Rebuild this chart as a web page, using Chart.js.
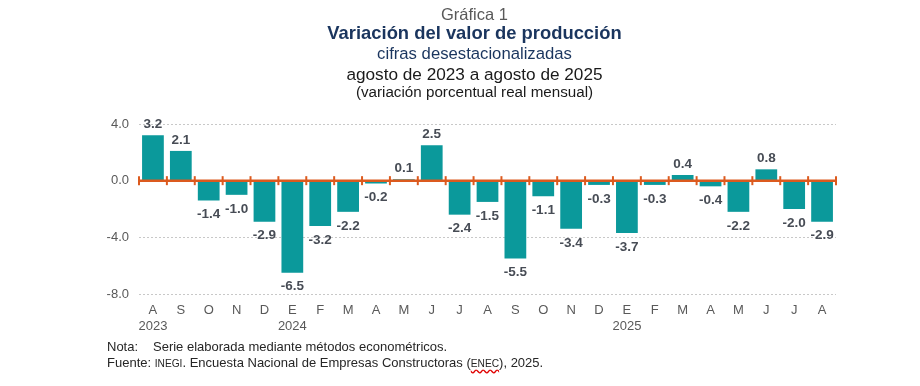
<!DOCTYPE html>
<html><head><meta charset="utf-8">
<script src="https://cdn.jsdelivr.net/npm/chart.js@4.4.1/dist/chart.umd.min.js"></script>
<style>
html,body{margin:0;padding:0;background:#fff;width:920px;height:386px;overflow:hidden;font-family:Arial,"Liberation Sans",sans-serif}
#wrap{position:absolute;left:0;top:0;width:920px;height:386px}
.t{position:absolute;left:0;width:949px;text-align:center;white-space:nowrap;line-height:1.15}
#t1{top:5px;font-size:16.5px;color:#595959}
#t2{top:22px;font-size:18.4px;font-weight:bold;color:#1A355E}
#t3{top:44px;font-size:16.7px;color:#1A355E}
#t4{top:65px;font-size:17.2px;color:#1a1a1a}
#t5{top:83px;font-size:15.2px;color:#1a1a1a}
.n{position:absolute;left:107px;font-size:13px;color:#262626;white-space:nowrap}
#n1{top:339px}
#n2{top:355px}
.lab{display:inline-block;width:46px}
.sc{font-size:10.2px}
.wv{text-decoration:underline wavy #e00000;text-underline-offset:2px}
</style></head>
<body>
<div id="wrap"><canvas id="c" width="920" height="386"></canvas></div>
<div class="t" id="t1">Gráfica 1</div>
<div class="t" id="t2">Variación del valor de producción</div>
<div class="t" id="t3">cifras desestacionalizadas</div>
<div class="t" id="t4">agosto de 2023 a agosto de 2025</div>
<div class="t" id="t5">(variación porcentual real mensual)</div>
<div class="n" id="n1"><span class="lab">Nota:</span>Serie elaborada mediante métodos econométricos.</div>
<div class="n" id="n2">Fuente: <span class="sc">INEGI</span>. Encuesta Nacional de Empresas Constructoras (<span class="wv"><span class="sc">ENEC</span></span>), 2025.</div>
<script>
const months = ['A','S','O','N','D','E','F','M','A','M','J','J','A','S','O','N','D','E','F','M','A','M','J','J','A'];
const yearLabels = ['2023','','','','','2024','','','','','','','','','','','','2025','','','','','','',''];
const values = [3.2,2.1,-1.4,-1.0,-2.9,-6.5,-3.2,-2.2,-0.2,0.1,2.5,-2.4,-1.5,-5.5,-1.1,-3.4,-0.3,-3.7,-0.3,0.4,-0.4,-2.2,0.8,-2.0,-2.9];
const yTicks = [4,0,-4,-8];

const labels = months.map((m,i)=> yearLabels[i] ? [m, yearLabels[i]] : [m]);

const zeroLine = {
  id:'zeroLine',
  afterDatasetsDraw(chart){
    const {ctx, chartArea, scales:{x,y}} = chart;
    const y0 = y.getPixelForValue(0);
    ctx.save();
    ctx.strokeStyle = '#DC5A1E';
    ctx.lineWidth = 2.5;
    ctx.beginPath();
    ctx.moveTo(chartArea.left, y0);
    ctx.lineTo(chartArea.right, y0);
    ctx.stroke();
    ctx.lineWidth = 2;
    const n = months.length;
    const step = x.getPixelForValue(1)-x.getPixelForValue(0);
    for(let i=0;i<=n;i++){
      let xx = i<n ? x.getPixelForValue(i) - step/2 : chartArea.right;
      if(i===0) xx = chartArea.left;
      ctx.beginPath();
      ctx.moveTo(xx, y0-4.5);
      ctx.lineTo(xx, y0+4.5);
      ctx.stroke();
    }
    ctx.restore();
  }
};

const dataLabels = {
  id:'dataLabels',
  afterDraw(chart){
    const {ctx} = chart;
    const meta = chart.getDatasetMeta(0);
    ctx.save();
    ctx.font = 'bold 13.5px Arial, "Liberation Sans", sans-serif';
    ctx.fillStyle = '#474C55';
    ctx.textAlign = 'center';
    ctx.textBaseline = 'middle';
    meta.data.forEach((bar,i)=>{
      const v = values[i];
      const yy = v>=0 ? bar.y - 11 : bar.y + 14;
      ctx.fillText(v.toFixed(1), bar.x, yy);
    });
    ctx.restore();
  }
};

new Chart(document.getElementById('c'), {
  type:'bar',
  data:{labels, datasets:[{data:values, backgroundColor:'#0B999B', borderWidth:0, barPercentage:0.78, categoryPercentage:1.0}]},
  options:{
    responsive:false, animation:false,
    layout:{padding:{left:100, right:84, top:124, bottom:44}},
    plugins:{legend:{display:false}, tooltip:{enabled:false}},
    scales:{
      y:{min:-8, max:4,
        afterFit(s){ s.width = 39; },
        afterBuildTicks(s){ s.ticks = yTicks.map(v=>({value:v})); },
        ticks:{padding:10, color:'#595959', font:{size:13, family:'Arial, "Liberation Sans", sans-serif'}, callback:v=>Number(v).toFixed(1)},
        grid:{drawTicks:false, color:'#C8C8C8', lineWidth:1},
        border:{display:false, dash:[2,2]}
      },
      x:{
        afterFit(s){ s.height = 48; },
        ticks:{padding:9, color:'#595959', maxRotation:0, autoSkip:false, font:{size:13, family:'Arial, "Liberation Sans", sans-serif'}},
        grid:{display:false, drawTicks:false},
        border:{display:false}
      }
    }
  },
  plugins:[zeroLine, dataLabels]
});
</script>
</body></html>
